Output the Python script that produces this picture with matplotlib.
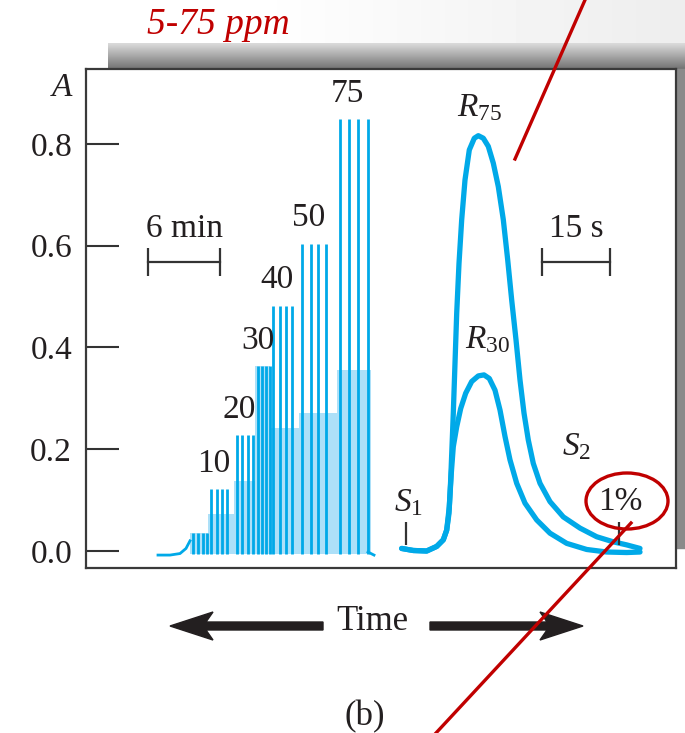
import numpy as np
import matplotlib.pyplot as plt
from matplotlib.patches import Ellipse, Polygon, Rectangle
from matplotlib.lines import Line2D

plt.rcParams["font.family"] = ["Liberation Serif", "DejaVu Serif"]
plt.rcParams["mathtext.fontset"] = "custom"
plt.rcParams["mathtext.rm"] = "Liberation Serif"
plt.rcParams["mathtext.it"] = "Liberation Serif:italic"

W, H = 685, 733
BLUE = "#00a9e8"
LIGHT_BLUE = "#ade0f8"
INK = "#231f20"
RED = "#c00000"

# calibration train: standards (ppm), spike absorbance, spike times
conc = [5, 10, 20, 30, 40, 50, 75]
conc_abs = [0.035, 0.122, 0.228, 0.364, 0.482, 0.604, 0.849]
spike_times = [
    [10.7, 11.2, 11.7, 12.1],
    [12.5, 13.1, 13.6, 14.1],
    [15.1, 15.6, 16.2, 16.7],
    [17.2, 17.6, 18.0, 18.4],
    [18.7, 19.4, 20.0, 20.6],
    [21.6, 22.5, 23.2, 24.0],
    [25.4, 26.3, 27.2, 28.2],
]
lead_t = [7.2, 8.4, 9.4, 10.0, 10.4]
lead_a = [-0.008, -0.008, -0.005, 0.005, 0.02]

# single injections on the fast time scale
r75_t = [31.57, 32.73, 34.07, 35.07, 35.73, 36.07, 36.30, 36.47, 36.60, 36.73,
         36.90, 37.07, 37.30, 37.57, 37.90, 38.33, 38.83, 39.23, 39.73, 40.23,
         40.73, 41.23, 41.73, 42.17, 42.57, 43.00, 43.40, 43.80, 44.23, 44.73,
         45.40, 46.40, 47.73, 49.40, 51.07, 52.73, 54.07, 55.40]
r75_a = [0.005, 0.001, 0.000, 0.009, 0.022, 0.041, 0.074, 0.140, 0.205, 0.271,
         0.369, 0.467, 0.565, 0.651, 0.729, 0.788, 0.811, 0.816, 0.811, 0.795,
         0.762, 0.716, 0.651, 0.572, 0.493, 0.415, 0.336, 0.271, 0.218, 0.172,
         0.133, 0.097, 0.067, 0.045, 0.028, 0.018, 0.012, 0.005]
r30_t = [31.57, 32.73, 34.07, 35.07, 35.73, 36.07, 36.33, 36.53, 36.73, 37.07,
         37.47, 37.97, 38.57, 39.23, 39.80, 40.33, 40.90, 41.40, 41.90, 42.40,
         43.07, 43.90, 45.07, 46.40, 48.07, 50.07, 52.07, 54.07, 55.40]
r30_a = [0.005, 0.001, 0.000, 0.009, 0.022, 0.041, 0.087, 0.153, 0.205, 0.244,
         0.280, 0.310, 0.333, 0.344, 0.346, 0.339, 0.316, 0.277, 0.225, 0.179,
         0.133, 0.094, 0.061, 0.035, 0.015, 0.003, -0.002, -0.003, -0.002]

yticks = [0.0, 0.2, 0.4, 0.6, 0.8]


def px(x, y):
    return x / W, 1 - y / H


fig = plt.figure(figsize=(W / 100, H / 100), dpi=100)

# faint haze in the upper right background
haze = fig.add_axes([250 / W, 1 - 43 / H, (W - 250) / W, 43 / H], zorder=0)
haze.imshow(np.linspace(1.0, 0.93, 64)[None, :], cmap="gray", vmin=0, vmax=1,
            aspect="auto", interpolation="bicubic")
haze.axis("off")

# drop shadow behind the plotting frame
shade = fig.add_axes([108 / W, 1 - 69 / H, (W - 108) / W, 26 / H], zorder=1)
shade.imshow(np.linspace(0.86, 0.45, 64)[:, None], cmap="gray", vmin=0, vmax=1,
             aspect="auto", interpolation="bicubic")
shade.axis("off")
fig.patches.append(Rectangle(px(676, 548), 9 / W, (548 - 69) / H,
                             transform=fig.transFigure, color="#8a8a8a", zorder=1))

ax = fig.add_axes([86 / W, 1 - 568 / H, (676 - 86) / W, (568 - 69) / H], zorder=2)
ax.set_facecolor("white")
ax.set_xlim(0, 59)
ax.set_ylim(-0.0334, 0.947)

# light envelope where the crowded spikes overlap
overlap = [1.0, 0.6, 0.6, 1.0, 0.5, 0.45, 0.42]
env_t = [g[0] - 0.3 for g in spike_times] + [spike_times[-1][-1] + 0.3]
env_a = [f * h for f, h in zip(overlap, conc_abs)] + [0.0]
ax.fill_between(env_t, -0.006, env_a, step="post", color=LIGHT_BLUE, lw=0)
for times, h in zip(spike_times, conc_abs):
    ax.vlines(times, -0.006, h, color=BLUE, lw=2.0)
ax.plot(lead_t, lead_a, color=BLUE, lw=2)
ax.plot([spike_times[-1][-1], spike_times[-1][-1] + 0.6], [-0.002, -0.008],
        color=BLUE, lw=2)

for c, h, times in zip(conc[1:], conc_abs[1:], spike_times[1:]):
    ax.text(np.mean(times) - 0.6, h + 0.05, str(c), ha="center", va="center",
            fontsize=24, color=INK)

ax.plot(r75_t, r75_a, color=BLUE, lw=3.8, solid_joinstyle="round",
        solid_capstyle="round")
ax.plot(r30_t, r30_a, color=BLUE, lw=3.8, solid_joinstyle="round",
        solid_capstyle="round")

# time scale bars
for x0, x1, label in [(6.2, 13.4, "6 min"), (45.6, 52.4, "15 s")]:
    ax.plot([x0, x1], [0.568, 0.568], color="#333333", lw=1.6)
    ax.vlines([x0, x1], 0.54, 0.596, color="#333333", lw=1.6)
    ax.text((x0 + x1) / 2, 0.634, label, ha="center", va="center",
            fontsize=24, color=INK)

ax.text(39.4, 0.871, r"$R_{75}$", ha="center", va="center", fontsize=24, color=INK)
ax.text(40.2, 0.415, r"$R_{30}$", ha="center", va="center", fontsize=24, color=INK)
ax.text(32.2, 0.094, r"$S_{1}$", ha="center", va="center", fontsize=24, color=INK)
ax.text(49.1, 0.204, r"$S_{2}$", ha="center", va="center", fontsize=24, color=INK)
ax.text(53.4, 0.096, "1%", ha="center", va="center", fontsize=24, color=INK)
ax.vlines([32.0, 53.3], 0.012, 0.057, color="#333333", lw=1.6)

ax.set_xticks([])
ax.set_yticks(yticks)
ax.set_yticklabels([f"{v:.1f}" for v in yticks])
ax.tick_params(axis="y", direction="in", length=24, width=1.5, pad=10,
               labelsize=24, labelcolor=INK, color="#333333")
for s in ax.spines.values():
    s.set_linewidth(1.6)
    s.set_color("#3a3a3a")

fig.text(*px(72, 88), "A", ha="right", va="center", fontsize=24,
         style="italic", color=INK)
fig.text(*px(147, 25), "5-75 ppm", ha="left", va="center", fontsize=27,
         style="italic", color=RED)

# time arrows
left_arrow = [(170, 626), (213, 612), (206, 622), (323, 622), (323, 630),
              (206, 630), (213, 640)]
right_arrow = [(583, 626), (540, 612), (547, 622), (430, 622), (430, 630),
               (547, 630), (540, 640)]
for pts in (left_arrow, right_arrow):
    fig.patches.append(Polygon([px(*p) for p in pts], closed=True,
                               transform=fig.transFigure, color=INK, zorder=3))
fig.text(*px(372, 621), "Time", ha="center", va="center", fontsize=25, color=INK)
fig.text(*px(365, 717), "(b)", ha="center", va="center", fontsize=25, color=INK)

# red call-outs
for (x0, y0), (x1, y1) in [((585, 0), (515, 159)), ((631, 523), (436, 733))]:
    fig.lines.append(Line2D([x0 / W, x1 / W], [1 - y0 / H, 1 - y1 / H],
                            transform=fig.transFigure, color=RED, lw=2.4,
                            zorder=5))
fig.patches.append(Ellipse(px(627, 501), 82 / W, 56 / H, transform=fig.transFigure,
                           fill=False, edgecolor=RED, lw=2.4, zorder=5))

fig.savefig("out.png", dpi=100)
